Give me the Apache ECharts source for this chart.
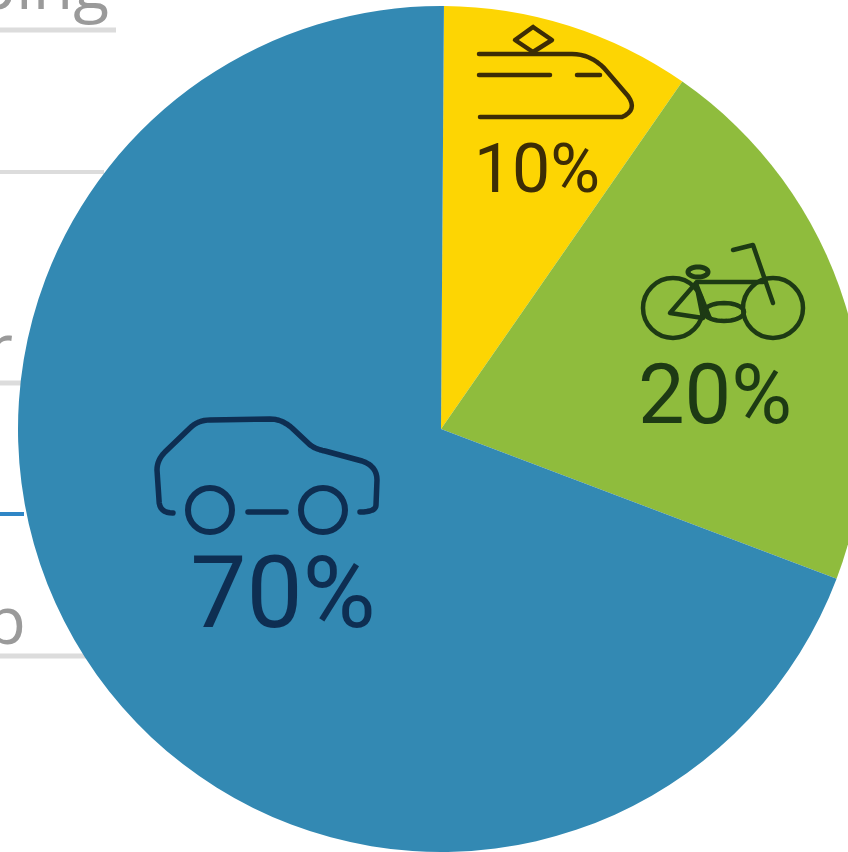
<!DOCTYPE html>
<html><head><meta charset="utf-8">
<style>html,body{margin:0;padding:0;background:#fff}#c{width:848px;height:852px}</style>
<script src="https://cdn.jsdelivr.net/npm/echarts@6/dist/echarts.min.js"></script>
</head><body><div id="c"></div>
<script>
const categories = ['Train', 'Bicycle', 'Car'];
const printedShares = [10, 20, 70];
const drawnShares = [9.55, 21.1, 69.35];
const sliceColors = ['#fdd503', '#8fbc3d', '#3389b3'];
const labelColors = ['#3d2d05', '#1d3a14', '#0e2e52'];
const backgroundWords = ['ping', 'r', 'p'];

const labelPlacement = [
  {x: 537, y: 175, fontSize: 68},
  {x: 715, y: 402, fontSize: 83},
  {x: 283, y: 602, fontSize: 100}
];

const stroke = (color, w) => ({fill: 'none', stroke: color, lineWidth: w, lineCap: 'round', lineJoin: 'round'});
// Flattens an icon outline of M/L/Q commands into polyline points.
const outline = d => {
  const tokens = d.trim().split(/\s+/), pts = [];
  for (let i = 0; i < tokens.length;) {
    const m = tokens[i][0];
    if (m === 'Q') {
      const c = [+tokens[i].slice(1), +tokens[i + 1]], e = [+tokens[i + 2], +tokens[i + 3]], s = pts[pts.length - 1];
      for (let t = 1; t <= 8; t++) {
        const u = t / 8;
        pts.push([(1-u)*(1-u)*s[0] + 2*u*(1-u)*c[0] + u*u*e[0], (1-u)*(1-u)*s[1] + 2*u*(1-u)*c[1] + u*u*e[1]]);
      }
      i += 4;
    } else {
      pts.push([+tokens[i].slice(1), +tokens[i + 1]]);
      i += 2;
    }
  }
  return pts;
};
const poly = (pts, color, w) => ({type: 'polyline', z: 10, shape: {points: pts}, style: stroke(color, w)});
const curve = (d, color, w) => poly(outline(d), color, w);
const ring = (cx, cy, r, color, w) => ({type: 'circle', z: 10, shape: {cx, cy, r}, style: stroke(color, w)});
const oval = (cx, cy, rx, ry, color, w) => ({type: 'polyline', z: 10, shape: {points: Array.from({length: 37}, (_, k) => [cx + rx * Math.cos(k * Math.PI / 18), cy + ry * Math.sin(k * Math.PI / 18)])}, style: stroke(color, w)});
const rule = (x2, y, color, w) => ({type: 'line', z: 0, shape: {x1: 0, y1: y, x2, y2: y}, style: {stroke: color, lineWidth: w}});
const word = (t, x, y) => ({type: 'text', z: 0, style: {text: t, x, y, align: 'right', verticalAlign: 'top', fontFamily: 'Open Sans', fontSize: 66, fill: '#9a9a9a'}});

const train = labelColors[0], bike = labelColors[1], car = labelColors[2];
const graphics = [
  rule(116, 30, '#dcdcdc', 5), rule(104, 172, '#dcdcdc', 4), rule(22, 383, '#dcdcdc', 5),
  rule(90, 656, '#dcdcdc', 5), rule(24, 514, '#2f86c6', 4),
  word(backgroundWords[0], 109, -43), word(backgroundWords[1], 13, 319), word(backgroundWords[2], 26, 592),
  // train icon
  poly([[533,27],[552,40],[533,52],[515,40],[533,27]], train, 4.5),
  curve('M479 54 L572 54 Q590 54 604 68 L628 96 Q638 110 622 117 L480 117', train, 4.5),
  poly([[479,75],[550,75]], train, 4.5), poly([[577,75],[600,75]], train, 4.5),
  // bicycle icon
  ring(673, 308, 30, bike, 4.5), ring(773, 308, 30, bike, 4.5),
  poly([[733,250],[753,245],[773,303]], bike, 4.5),
  poly([[697,282],[763,282]], bike, 4.5),
  oval(698, 272, 10, 5, bike, 5),
  poly([[696,283],[670,313],[703,318],[696,283]], bike, 4.5),
  poly([[696,283],[710,318]], bike, 4),
  oval(724, 312, 20, 9, bike, 4.5),
  // car icon
  curve('M173 513 Q159 513 159 500 L157 470 Q157 460 165 452 L190 428 Q198 420 210 420 L270 419 Q282 419 292 428 L308 443 Q314 449 325 451 L362 461 Q377 466 377 480 L376 505 Q376 512 360 512', car, 5.5),
  ring(210, 510, 22, car, 6), ring(323, 510, 22, car, 6),
  poly([[248,512],[286,512]], car, 5.5)
];

const chart = echarts.init(document.getElementById('c'), null, {renderer: 'canvas'});
chart.setOption({
  animation: false,
  backgroundColor: '#ffffff',
  graphic: {elements: graphics},
  series: [{
    type: 'pie',
    z: 5,
    center: [441, 429],
    radius: [0, 423],
    startAngle: 89.6,
    clockwise: true,
    silent: true,
    labelLine: {show: false},
    label: {show: true, position: 'inside', formatter: p => printedShares[p.dataIndex] + '%', fontFamily: 'Roboto', fontWeight: 400},
    labelLayout: p => ({x: labelPlacement[p.dataIndex].x, y: labelPlacement[p.dataIndex].y, align: 'center', verticalAlign: 'middle', hideOverlap: false}),
    data: categories.map((name, i) => ({
      name, value: drawnShares[i],
      itemStyle: {color: sliceColors[i]},
      label: {color: labelColors[i], fontSize: labelPlacement[i].fontSize}
    }))
  }]
});
</script></body></html>
